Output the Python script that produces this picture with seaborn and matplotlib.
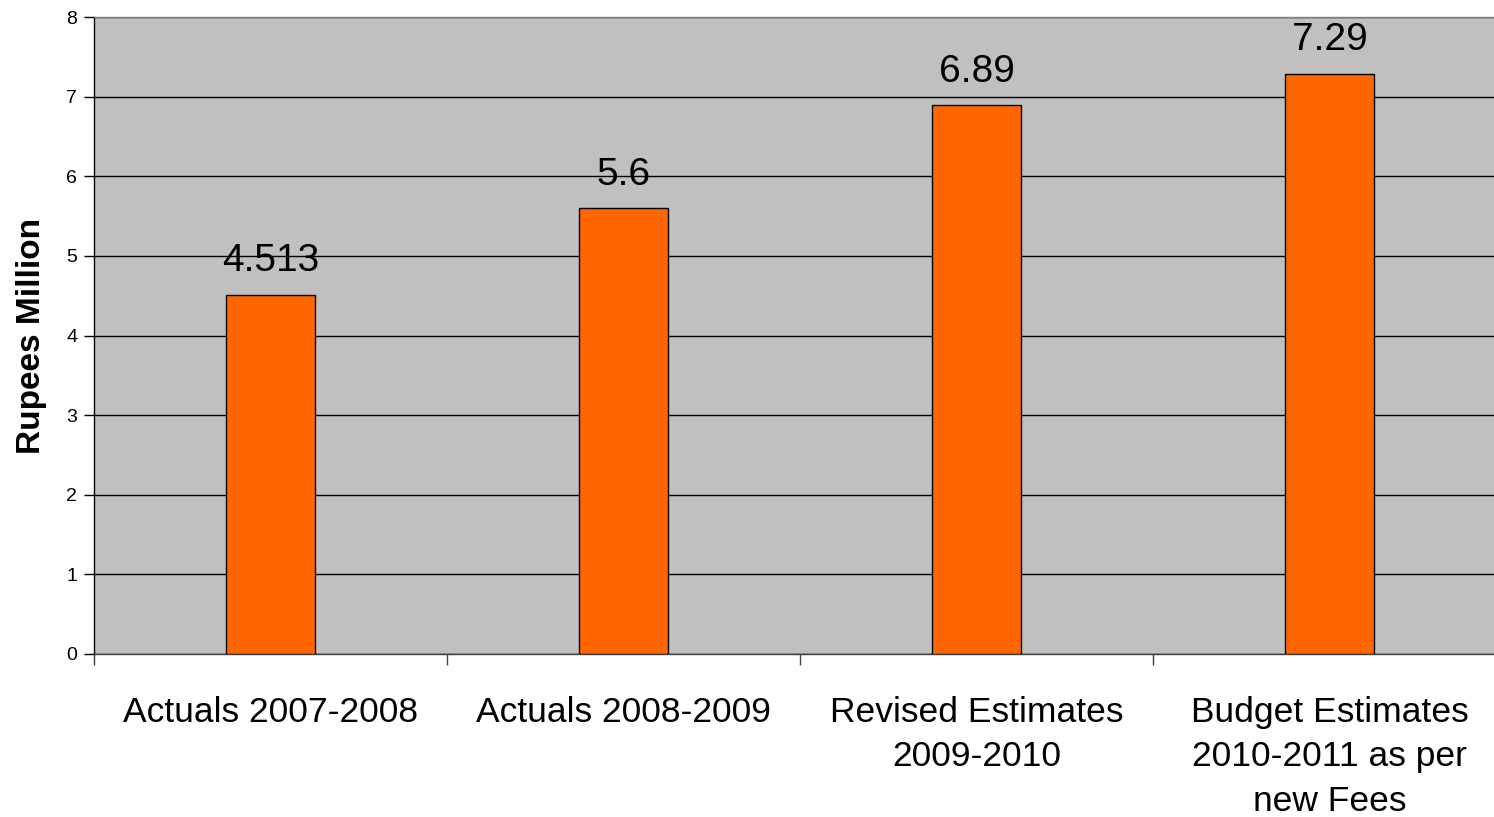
import pandas as pd
import numpy as np
import matplotlib
matplotlib.use("Agg")
import matplotlib.pyplot as plt
import seaborn as sns

# data
categories = ['Actuals 2007-2008', 'Actuals 2008-2009',
              'Revised Estimates\n2009-2010',
              'Budget Estimates\n2010-2011 as per\nnew Fees']
values = [4.513, 5.6, 6.89, 7.29]
value_labels = ['4.513', '5.6', '6.89', '7.29']
y_ticks = [0, 1, 2, 3, 4, 5, 6, 7, 8]

sns.set_style("white")
plt.rcParams['font.family'] = ['Liberation Sans', 'DejaVu Sans']
plt.rcParams['text.color'] = 'black'
plt.rcParams['axes.labelcolor'] = 'black'
plt.rcParams['xtick.labelcolor'] = 'black'
plt.rcParams['ytick.labelcolor'] = 'black'

df = pd.DataFrame({'category': categories, 'value': values})

fig = plt.figure(figsize=(14.94, 8.17), dpi=100)
# plot area runs a little past the right edge of the picture
ax = fig.add_axes([94 / 1494, 163 / 817, 1412 / 1494, (654 - 17) / 817])
ax.set_facecolor('#C0C0C0')

sns.barplot(data=df, x='category', y='value', color='#FF6600', width=0.253,
            edgecolor='black', linewidth=1, saturation=1, ax=ax, zorder=3)

ax.bar_label(ax.containers[0], labels=value_labels, padding=11, fontsize=28,
             color='black')

ax.set_ylim(0, 8)
ax.set_xlim(-0.5, 3.5)
ax.set_yticks(y_ticks)
ax.yaxis.grid(True, color='black', linewidth=1)
ax.set_axisbelow(True)

ax.set_xlabel('')
ax.set_ylabel('Rupees Million', fontsize=24, fontweight='bold', labelpad=14)

ax.tick_params(axis='y', length=7, width=1, direction='out', labelsize=14,
               color='black', left=True, pad=5)
ax.tick_params(axis='x', which='major', length=0, pad=30, labelsize=25.5)
ax.set_xticks(np.arange(-0.5, 3.5, 1), minor=True)
ax.tick_params(axis='x', which='minor', length=8, width=1, direction='out',
               color='#404040', bottom=True)
for lab in ax.get_xticklabels():
    lab.set_linespacing(1.45)
    lab.set_verticalalignment('top')

ax.spines['left'].set_color('black')
ax.spines['bottom'].set_color('#404040')
ax.spines['top'].set_color('#808080')
ax.spines['right'].set_visible(False)
for s in ax.spines.values():
    s.set_linewidth(1)

fig.savefig('out.png', dpi=100)
